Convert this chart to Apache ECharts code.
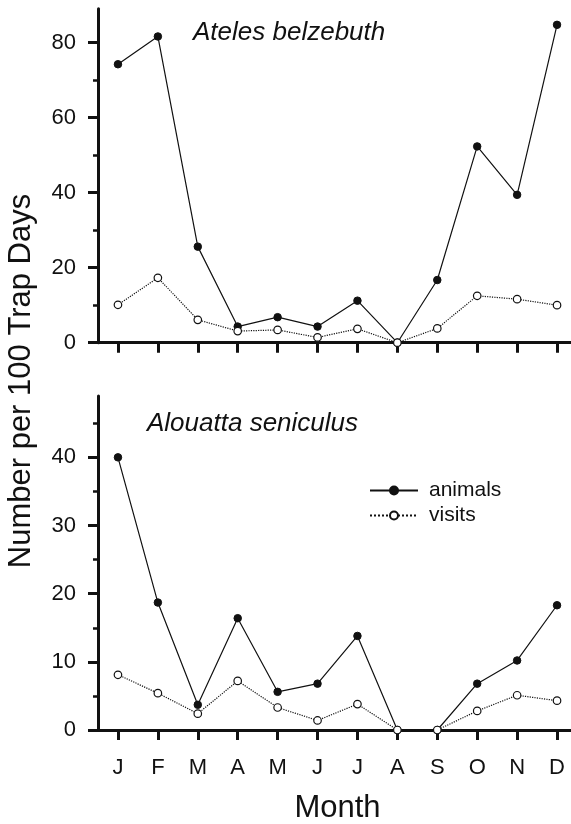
<!DOCTYPE html>
<html><head><meta charset="utf-8">
<script src="https://cdn.jsdelivr.net/npm/echarts@6/dist/echarts.min.js"></script>
<style>html,body{margin:0;padding:0;background:#fff}#c{width:571px;height:824px}</style>
</head><body><div id="c"></div>
<script>
const months = ['J','F','M','A','M','J','J','A','S','O','N','D'];
const monthPos = [0,1,2,3,4,5,6,7,8,9,10,11];
const atelesAnimals = [74.2,81.6,25.6,4.3,6.8,4.3,11.2,0,16.7,52.3,39.4,84.7];
const atelesVisits = [10.1,17.3,6.1,3.1,3.4,1.4,3.7,0,3.8,12.5,11.6,10.0];
const alouattaAnimals = [40.0,18.7,3.7,16.4,5.6,6.8,13.8,0,0,6.8,10.2,18.3];
const alouattaVisits = [8.1,5.4,2.4,7.2,3.3,1.4,3.8,0,0,2.8,5.1,4.3];
const topMajorTicks = [0,20,40,60,80];
const topMinorTicks = [10,30,50,70];
const botMajorTicks = [0,10,20,30,40];
const botMinorTicks = [5,15,25,35,45];
const topMax = 89, botMax = 49;

const INK = '#111';
const FONT = '"Liberation Sans", Arial, Helvetica, sans-serif';

function xAxis(gi, showLabels) {
  return {
    type: 'value', gridIndex: gi, min: -0.5, max: 11.35,
    axisLine: {show: true, onZero: false, lineStyle: {color: INK, width: 3}},
    axisTick: {show: true, customValues: monthPos, length: 10, inside: false, lineStyle: {color: INK, width: 3}},
    axisLabel: {show: showLabels, customValues: monthPos, formatter: v => months[Math.round(v)] || '',
      margin: 27, fontSize: 22, color: INK, fontFamily: FONT},
    splitLine: {show: false}
  };
}
function yMajor(gi, max, ticks) {
  return {
    type: 'value', gridIndex: gi, min: 0, max: max, position: 'left',
    axisLine: {show: true, onZero: false, lineStyle: {color: INK, width: 3}},
    axisTick: {show: true, customValues: ticks, length: 10, lineStyle: {color: INK, width: 3}},
    axisLabel: {show: true, customValues: ticks, margin: 22, fontSize: 22, color: INK, fontFamily: FONT},
    splitLine: {show: false}
  };
}
function yMinor(gi, max, ticks) {
  return {
    type: 'value', gridIndex: gi, min: 0, max: max, position: 'left',
    axisLine: {show: false, onZero: false},
    axisTick: {show: true, customValues: ticks, length: 5, lineStyle: {color: INK, width: 2.5}},
    axisLabel: {show: false},
    splitLine: {show: false}
  };
}
function pairs(arr) { return arr.map((v, i) => [monthPos[i], v]); }
function animals(xi, yi, data) {
  return {name: 'animals', type: 'line', xAxisIndex: xi, yAxisIndex: yi, data: pairs(data),
    symbol: 'circle', symbolSize: 7.5, lineStyle: {color: INK, width: 1.2},
    itemStyle: {color: INK, borderColor: INK, borderWidth: 1}, z: 3, animation: false};
}
function visits(xi, yi, data) {
  return {name: 'visits', type: 'line', xAxisIndex: xi, yAxisIndex: yi, data: pairs(data),
    symbol: 'circle', symbolSize: 7.5, lineStyle: {color: INK, width: 1.2, type: 'dotted'},
    itemStyle: {color: '#fff', borderColor: INK, borderWidth: 1.2}, z: 4, animation: false};
}

const chart = echarts.init(document.getElementById('c'), null, {renderer: 'canvas'});
chart.setOption({
  backgroundColor: '#fff',
  animation: false,
  grid: [
    {left: 98, right: 0, top: 8.7, height: 334, containLabel: false},
    {left: 98, right: 0, top: 396, height: 334, containLabel: false}
  ],
  xAxis: [xAxis(0, false), xAxis(1, true)],
  yAxis: [yMajor(0, topMax, topMajorTicks), yMinor(0, topMax, topMinorTicks),
          yMajor(1, botMax, botMajorTicks), yMinor(1, botMax, botMinorTicks)],
  legend: {
    data: ['animals', 'visits'], orient: 'vertical', left: 369, top: 480,
    itemWidth: 48, itemHeight: 10, itemGap: 4, padding: 0,
    textStyle: {fontSize: 21, color: INK, fontFamily: FONT, padding: [0, 0, 0, 6]}
  },
  series: [
    animals(0, 0, atelesAnimals), visits(0, 0, atelesVisits),
    animals(1, 2, alouattaAnimals), visits(1, 2, alouattaVisits)
  ],
  graphic: [
    {type: 'text', left: 193, top: 20, style: {text: 'Ateles belzebuth', font: 'italic 26px ' + FONT, fill: INK}},
    {type: 'text', left: 147, top: 411, style: {text: 'Alouatta seniculus', font: 'italic 26px ' + FONT, fill: INK}},
    {type: 'text', x: 21, y: 381, rotation: Math.PI / 2,
      style: {text: 'Number per 100 Trap Days', font: '31px ' + FONT, fill: INK, align: 'center', verticalAlign: 'middle'}},
    {type: 'text', x: 337.5, y: 808, style: {text: 'Month', font: '31px ' + FONT, fill: INK, align: 'center', verticalAlign: 'middle'}}
  ]
});
</script></body></html>
